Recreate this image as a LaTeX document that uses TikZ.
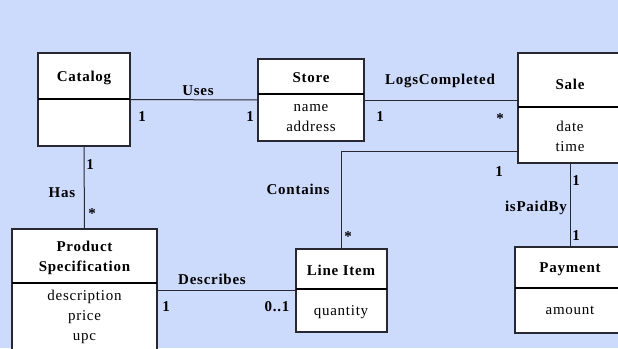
\documentclass[tikz,border=0pt]{standalone}
\usepackage{fontspec}
\setmainfont[LetterSpace=5]{Liberation Serif}
\usetikzlibrary{calc}
\definecolor{bg}{RGB}{204,218,251}
\definecolor{ln}{RGB}{40,40,50}
\begin{document}
\begin{tikzpicture}[x=1pt,y=-1pt,
  box/.style={draw=ln,line width=1.1pt,fill=white,anchor=north west,inner sep=0pt,outer sep=0pt},
  divider/.style={draw=black,line width=2pt},
  conn/.style={draw=ln,line width=1pt},
  cname/.style={font=\fontsize{15}{20}\selectfont\bfseries,align=center,inner sep=0pt},
  attr/.style={font=\fontsize{15}{20}\selectfont,align=center,inner sep=0pt},
  lbl/.style={font=\fontsize{15}{18}\selectfont\bfseries,inner sep=0pt}]
\fill[bg] (0,0) rectangle (618,348);
\useasboundingbox (0,0) rectangle (618,348);
\begin{scope}
\clip (0,0) rectangle (618,348);
% boxes
\node[box,minimum width=92pt,minimum height=93pt] (cat) at (38,53) {};
\node[box,minimum width=106pt,minimum height=82pt] (store) at (258,59) {};
\node[box,minimum width=104pt,minimum height=110pt] (sale) at (518,53) {};
\node[box,minimum width=91pt,minimum height=83pt] (li) at (296,249) {};
\node[box,minimum width=145pt,minimum height=131pt] (ps) at (12,229) {};
\node[box,minimum width=110pt,minimum height=86pt] (pay) at (515,247) {};
% dividers
\draw[divider] (38,99) -- (130,99);
\draw[divider] (258,94) -- (364,94);
\draw[divider] (518,107) -- (622,107);
\draw[divider] (296,289) -- (387,289);
\draw[divider] (12,283) -- (157,283);
\draw[divider] (515,288) -- (625,288);
% class texts
\node[cname] (catn) at (84,78) {Catalog};
\node[cname] (storen) at (311,78) {Store};
\node[attr] (storea) at (311,118) {name\\address};
\node[cname] (salen) at (570,84) {Sale};
\node[attr] (salea) at (570,136) {date\\time};
\node[cname] (lin) at (341,270) {Line Item};
\node[attr] (lia) at (341,312) {quantity};
\node[cname] (psn) at (84.5,258) {Product\\Specification};
\node[attr] (psa) at (84.5,317) {description\\price\\upc};
\node[cname] (payn) at (570,269) {Payment};
\node[attr] (paya) at (570,310) {amount};
\end{scope}
% connectors
\coordinate (cy) at (0,151);
\coordinate (dy) at (0,290);
\draw[conn] (cat.east) -- (store.west);
\draw[conn] (store.east) -- (store.east -| sale.west);
\draw[conn] (sale.west |- cy) -| (li.north);
\draw[conn] (cat.south) -- (ps.north);
\draw[conn] (ps.east |- dy) -- (li.west |- dy);
\draw[conn] (sale.south) -- (pay.north);
% labels
\node[lbl] (l1) at (198,91) {Uses};
\node[lbl] (l2) at (142,117) {1};
\node[lbl] (l3) at (250,117) {1};
\node[lbl] (l4) at (440,81) {LogsCompleted};
\node[lbl] (l5) at (380,117) {1};
\node[lbl] (l6) at (500,119) {*};
\node[lbl] (l7) at (298,189) {Contains};
\node[lbl] (l8) at (348,237) {*};
\node[lbl] (l9) at (499,172) {1};
\node[lbl] (l10) at (576,181) {1};
\node[lbl] (l11) at (536,208) {isPaidBy};
\node[lbl] (l12) at (576,236) {1};
\node[lbl] (l13) at (62,193) {Has};
\node[lbl] (l14) at (92,214) {*};
\node[lbl] (l15) at (90,165) {1};
\node[lbl] (l16) at (212,279) {Describes};
\node[lbl] (l17) at (166,307) {1};
\node[lbl] (l18) at (277,307) {0..1};
\end{tikzpicture}
\end{document}
